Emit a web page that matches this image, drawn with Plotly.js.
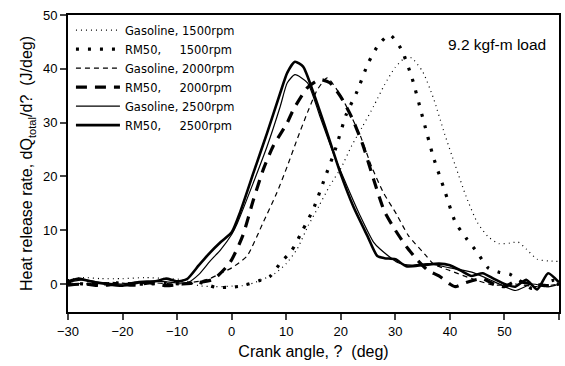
<!DOCTYPE html>
<html><head><meta charset="utf-8">
<script src="https://cdn.plot.ly/plotly-3.0.1.min.js"></script>
<style>html,body{margin:0;padding:0;background:#fff;}#chart{width:565px;height:366px;}</style>
</head><body><div id="chart"></div>
<script>
// Crank angle (deg) and heat release rate (J/deg) per series
const gas1500_x = [-30,-27,-24,-20,-16,-12,-9,-6,-3,0,2,4,6,8,10,12,14,16,18,20,22,24,26,28,30,32,33,35,37,39,41,43,45,47,49,51,52.5,54,56,58,60];
const gas1500_y = [0.8,1.2,1.0,1.0,1.2,1.0,0.8,-0.3,-0.5,-0.4,-0.3,0.2,1.0,2.0,3.8,6.5,10.8,14.5,18.3,21.5,25.7,29.3,33.0,37.0,40.3,42.2,42.0,39.5,34.5,28.0,22.0,16.2,11.5,8.8,7.5,7.6,7.8,6.5,4.6,4.3,4.2];

const rm1500_x = [-30,-27,-24,-21,-18,-15,-12,-9,-6,-3,0,2,5,7,9,11,13,15,17,19,21,23,25,27,29,31,33,35,37,39,41,43,45,47,49,51,53,55,57,59,60];
const rm1500_y = [0.3,0.0,0.0,0.2,0.0,0.0,0.2,0.0,0.3,-0.6,-0.6,-0.3,0.6,1.4,4.0,6.2,10.0,14.0,19.5,25.0,31.5,35.8,41.0,44.6,46.3,43.8,38.5,31.0,23.5,17.5,11.5,8.5,5.9,3.0,2.2,1.8,0.5,-0.8,0.0,0.7,0.5];

const gas2000_x = [-30,-26,-22,-18,-14,-10,-8,-6,-4,-2,0,2.8,5.8,8.3,10.2,12,13.9,15.7,17.5,20,22,23.6,25.7,27.8,30.2,32.4,35.7,37,40,44,48,52,56,60];
const gas2000_y = [0.2,0.0,0.3,0.0,0.2,0.0,0.2,0.5,1.0,2.0,3.0,5.2,11.5,17.0,21.9,26.9,31.9,36.1,38.3,35.0,31.0,27.5,21.7,17.0,13.0,9.0,5.2,3.7,2.5,1.0,-0.2,0.0,-0.5,0.0];

const rm2000_x = [-30,-27,-24,-21,-18,-15,-12,-9,-6,-3.3,-0.3,2,4,5.8,7.6,10.2,11.3,13.9,16.2,18,20,22,24,26,28,30,32,34,36,38,40,41,43,46,48,50,52,55,58,60];
const rm2000_y = [-0.2,0.0,-0.3,0.0,-0.2,0.2,-0.3,0.0,0.3,0.9,4.0,8.9,15.7,21.3,25.6,30.0,32.4,36.5,38.0,37.4,34.8,31.0,26.0,19.5,13.5,10.0,7.0,4.5,2.5,1.5,0.0,-0.5,0.3,1.0,0.0,-0.5,0.5,0.0,-0.3,0.0];

const gas2500_x = [-30,-27,-24,-20,-17,-13,-10,-8,-6,-4,-2,0,1,4,6.5,8.9,10.2,11.6,13.9,16.2,18.6,21.2,23.6,26,27.2,30.4,33,36,40,44,48,52,55,58,60];
const gas2500_y = [0.3,0.8,0.3,0.0,0.5,0.5,0.2,0.3,1.8,4.2,6.4,9.2,11.2,18.9,25.6,33.0,37.4,38.9,37.4,31.1,24.4,18.1,12.6,7.8,6.5,4.0,3.5,3.8,3.0,2.2,0.5,-1.2,0.0,-0.5,0.0];

const rm2500_x = [-30,-28,-26,-23,-20,-17,-14,-12,-10,-8.2,-6,-4,-2,0,1.6,4,6.5,8.9,10.2,11.6,13.1,15,17.5,19.9,22.3,24.9,26.7,28,30,32,35,38,40,42,44,46,48,50,52,54,56,58,60];
const rm2500_y = [0.5,1.0,0.5,0.0,-0.3,0.3,0.5,1.0,0.5,0.9,3.5,5.8,7.8,9.6,13.5,20.7,28.1,35.5,39.3,41.3,40.4,35.5,28.1,20.7,14.4,8.9,5.2,4.8,4.6,3.3,3.5,3.8,3.5,2.5,1.5,2.0,1.0,0.0,-0.5,0.8,-1.0,2.0,0.3];

const seriesNames = ["Gasoline, 1500rpm","RM50,\u00A0\u00A0\u00A0\u00A0\u00A01500rpm","Gasoline, 2000rpm","RM50,\u00A0\u00A0\u00A0\u00A0\u00A02000rpm","Gasoline, 2500rpm","RM50,\u00A0\u00A0\u00A0\u00A0\u00A02500rpm"];
const xTicks = [-30,-20,-10,0,10,20,30,40,50,60];
const yTicks = [0,10,20,30,40,50];

const data = [[gas1500_x,gas1500_y],[rm1500_x,rm1500_y],[gas2000_x,gas2000_y],[rm2000_x,rm2000_y],[gas2500_x,gas2500_y],[rm2500_x,rm2500_y]];
const styles = [
  {width:1.2, dash:"1px,4px"},
  {width:3.2, dash:"3px,9px"},
  {width:1.2, dash:"5px,4px"},
  {width:3.2, dash:"11px,8px"},
  {width:1.2, dash:"solid"},
  {width:2.6, dash:"solid"}
];
const traces = data.map((d,i)=>({
  x:d[0], y:d[1], name:seriesNames[i], type:"scatter", mode:"lines",
  line:{color:"#000", width:styles[i].width, dash:styles[i].dash, shape:"spline", smoothing:0.6}
}));

const font = {family:"Arial, 'Liberation Sans', sans-serif", color:"#000"};
const layout = {
  width:565, height:366,
  margin:{l:68, r:6, t:15, b:54},
  paper_bgcolor:"#fff", plot_bgcolor:"#fff",
  font:Object.assign({size:12}, font),
  showlegend:true,
  legend:{x:0.006, y:0.998, xanchor:"left", yanchor:"top", bgcolor:"rgba(0,0,0,0)",
          font:{family:"'DejaVu Sans', sans-serif", size:11.5, color:"#000"}, tracegroupgap:0, itemwidth:44},
  xaxis:{range:[-30,60], tickvals:xTicks, ticks:"outside", ticklen:6, tickwidth:2,
         showline:true, linewidth:2, linecolor:"#000", mirror:true, showgrid:false, zeroline:false,
         tickfont:Object.assign({size:13}, font),
         title:{text:"Crank angle, ?  (deg)", font:Object.assign({size:16}, font), standoff:8}},
  yaxis:{range:[-5.2,50], tickvals:yTicks, ticks:"outside", ticklen:6, tickwidth:2,
         showline:true, linewidth:2, linecolor:"#000", mirror:true, showgrid:false, zeroline:false,
         tickfont:Object.assign({size:13}, font),
         title:{text:"Heat release rate, dQ<sub>total</sub>/d?  (J/deg)", font:Object.assign({size:16}, font), standoff:6}},
  annotations:[{xref:"paper", yref:"paper", x:0.874, y:0.899, xanchor:"center", yanchor:"middle",
                text:"9.2 kgf-m load", showarrow:false, font:Object.assign({size:15.5}, font)}]
};
Plotly.newPlot("chart", traces, layout, {displayModeBar:false, staticPlot:true});
</script></body></html>
